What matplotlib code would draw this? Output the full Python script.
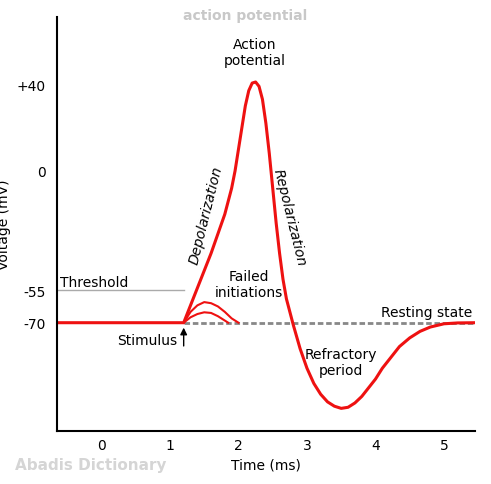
import matplotlib
matplotlib.use("Agg")
import matplotlib.pyplot as plt

t_main = [-0.65, 1.2, 1.3, 1.4, 1.5, 1.6, 1.7, 1.8, 1.9, 1.95, 2.0, 2.05, 2.1, 2.15, 2.2, 2.25, 2.3, 2.35, 2.4, 2.45, 2.5, 2.55, 2.6, 2.65, 2.7, 2.8, 2.9, 3.0, 3.1, 3.2, 3.3, 3.4, 3.5, 3.6, 3.7, 3.8, 3.9, 4.0, 4.1, 4.2, 4.35, 4.5, 4.65, 4.8, 5.0, 5.2, 5.45]
v_main = [-70, -70, -62, -54, -46, -38, -29, -20, -8, 0, 10, 20, 30, 37, 40.5, 41, 39, 33, 22, 8, -8, -24, -38, -50, -59, -71, -82, -91, -98, -103, -106.5, -108.5, -109.5, -109, -107, -104, -100, -96, -91, -87, -81, -77, -74, -72, -70.5, -70.1, -70]
t_fail1 = [1.2, 1.3, 1.4, 1.5, 1.6, 1.7, 1.8, 1.9, 2.0]
v_fail1 = [-70, -65, -62, -60.5, -61, -62.5, -65, -68, -70]
t_fail2 = [1.2, 1.3, 1.4, 1.5, 1.6, 1.7, 1.8, 1.85]
v_fail2 = [-70, -67.5, -66, -65.2, -65.5, -67, -69, -70]
yticks = [40, 0, -55, -70]
ylabels = ["+40", "0", "-55", "-70"]
xticks = [0, 1, 2, 3, 4, 5]

fig = plt.figure(figsize=(4.91, 4.85), dpi=100)
ax = fig.add_axes([0.116, 0.109, 0.851, 0.854])
ax.set_xlim(-0.65, 5.45)
ax.set_ylim(-120, 71)
ax.spines['top'].set_visible(False)
ax.spines['right'].set_visible(False)
ax.spines['left'].set_linewidth(1.5)
ax.spines['bottom'].set_linewidth(1.5)
ax.set_xticks(xticks)
ax.set_yticks(yticks)
ax.set_yticklabels(ylabels)
ax.tick_params(length=0, labelsize=10)
ax.tick_params(axis='y', pad=8)
ax.tick_params(axis='x', pad=5)
ax.set_xlabel("Time (ms)", fontsize=10, labelpad=4)
ax.set_ylabel("Voltage (mV)", fontsize=10, labelpad=4)

ax.plot([-0.65, 1.2], [-55, -55], color="#aaaaaa", lw=1)
ax.plot([1.2, 5.45], [-70, -70], color="#888888", lw=2, ls=(0, (2, 1)))
ax.plot(t_fail1, v_fail1, color="#ee1111", lw=1.5)
ax.plot(t_fail2, v_fail2, color="#ee1111", lw=1.5)
ax.plot(t_main, v_main, color="#ee1111", lw=2.2, solid_joinstyle="round")

ax.text(2.24, 55, "Action\npotential", ha="center", va="center", fontsize=10)
ax.text(1.52, -20, "Depolarization", rotation=76, ha="center", va="center", fontsize=10, style="italic")
ax.text(2.75, -21, "Repolarization", rotation=-76, ha="center", va="center", fontsize=10, style="italic")
ax.text(2.15, -52, "Failed\ninitiations", ha="center", va="center", fontsize=10)
ax.text(-0.6, -51, "Threshold", ha="left", va="center", fontsize=10)
ax.text(5.42, -65, "Resting state", ha="right", va="center", fontsize=10)
ax.text(1.1, -78, "Stimulus", ha="right", va="center", fontsize=10)
ax.annotate("", xy=(1.2, -71), xytext=(1.2, -82), arrowprops=dict(arrowstyle="-|>", color="black", lw=1))
ax.text(3.5, -88, "Refractory\nperiod", ha="center", va="center", fontsize=10)

fig.text(0.5, 0.967, "action potential", ha="center", va="center", fontsize=10, color="#c8c8c8", weight="bold")
fig.text(0.03, 0.04, "Abadis Dictionary", ha="left", va="center", fontsize=11, color="#d5d5d5", weight="bold")
fig.savefig("out.png", dpi=100)
